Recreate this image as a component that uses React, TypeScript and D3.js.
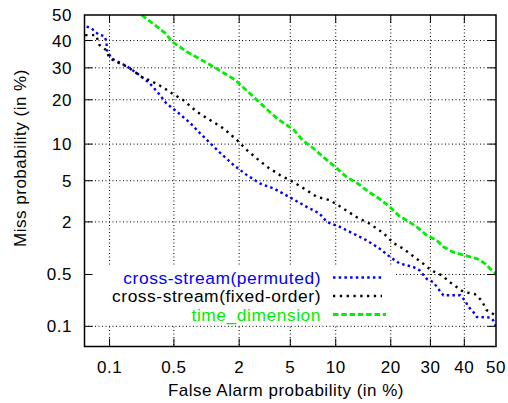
import React from "react";
import * as d3 from "d3";

const xTicks = [0.1, 0.5, 2, 5, 10, 20, 30, 40, 50];
const yTicks = [0.1, 0.5, 2, 5, 10, 20, 30, 40, 50];

const faPermuted = [0.053, 0.061, 0.074, 0.087, 0.092, 0.093, 0.105, 0.16, 0.21, 0.28, 0.35, 0.42, 0.54, 0.73, 0.9, 1.12, 1.38, 1.8, 2.32, 2.98, 3.78, 4.5, 5.2, 6.5, 7.9, 8.8, 10.6, 12.7, 15, 17.6, 19.8, 22.1, 25.4, 27.1, 29, 30.8, 32.2, 33.7, 38.7, 40.2, 41.2, 42.8, 43.9, 48.1, 49.1, 50];
const missPermuted = [45.4, 44.7, 42.3, 41.7, 39.6, 36.4, 33.4, 30.4, 27.9, 24.9, 21.8, 19, 16.8, 14.1, 12, 10.1, 8.5, 6.8, 5.6, 4.7, 4.25, 3.77, 3.4, 2.84, 2.44, 2, 1.77, 1.5, 1.27, 1.02, 0.82, 0.68, 0.62, 0.56, 0.44, 0.4, 0.33, 0.27, 0.27, 0.23, 0.19, 0.16, 0.136, 0.134, 0.122, 0.1];

const faFixed = [0.051, 0.069, 0.076, 0.091, 0.1, 0.12, 0.16, 0.23, 0.3, 0.38, 0.48, 0.62, 0.84, 1.12, 1.47, 1.92, 2.32, 2.8, 3.36, 4.2, 5.2, 6.5, 7.6, 9.2, 11.1, 13.2, 15.6, 18.4, 20.6, 22.9, 25, 28, 30.3, 33.2, 35.6, 39.7, 43.3, 45.4, 47, 49.1, 50];
const missFixed = [42.1, 42.1, 38.3, 36.4, 33.4, 32.1, 30.4, 27, 25.4, 23.8, 21.8, 19.9, 16.8, 14.8, 13, 10.7, 9, 7.7, 6.6, 5.6, 4.9, 4.1, 3.55, 3.3, 2.74, 2.25, 1.92, 1.52, 1.18, 1.02, 0.86, 0.68, 0.56, 0.49, 0.4, 0.3, 0.28, 0.23, 0.17, 0.15, 0.14];

const faTime = [0.23, 0.32, 0.41, 0.48, 0.67, 1.12, 1.86, 2.8, 4.0, 5.3, 6.1, 7.2, 8.6, 9.9, 11.6, 13.5, 15.3, 17.6, 19.8, 21.7, 23.7, 26.3, 29, 31.7, 33.7, 36.6, 39.7, 41.8, 43.9, 46.5, 48.1, 50];
const missTime = [50, 46, 42.8, 39.6, 35.8, 31, 25.9, 19.9, 15.2, 12.7, 10.7, 9.3, 7.7, 6.6, 5.4, 4.7, 4.0, 3.4, 2.84, 2.35, 2.08, 1.77, 1.44, 1.27, 1.07, 0.93, 0.86, 0.82, 0.78, 0.68, 0.59, 0.51];

const seriesNames = ["cross-stream(permuted)", "cross-stream(fixed-order)", "time_dimension"];
const seriesColors = ["#0000ff", "#000000", "#00ee00"];

function probit(p: number): number {
  const a = [-3.969683028665376e1, 2.209460984245205e2, -2.759285104469687e2, 1.38357751867269e2, -3.066479806614716e1, 2.506628277459239];
  const b = [-5.447609879822406e1, 1.615858368580409e2, -1.556989798598866e2, 6.680131188771972e1, -1.328068155288572e1];
  const c = [-7.784894002430293e-3, -3.223964580411365e-1, -2.400758277161838, -2.549732539343734, 4.374664141464968, 2.938163982698783];
  const d = [7.784695709041462e-3, 3.224671290700398e-1, 2.445134137142996, 3.754408661907416];
  const plow = 0.02425;
  if (p < plow) {
    const q = Math.sqrt(-2 * Math.log(p));
    return (((((c[0] * q + c[1]) * q + c[2]) * q + c[3]) * q + c[4]) * q + c[5]) / ((((d[0] * q + d[1]) * q + d[2]) * q + d[3]) * q + 1);
  }
  if (p <= 1 - plow) {
    const q = p - 0.5;
    const r = q * q;
    return ((((((a[0] * r + a[1]) * r + a[2]) * r + a[3]) * r + a[4]) * r + a[5]) * q) / (((((b[0] * r + b[1]) * r + b[2]) * r + b[3]) * r + b[4]) * r + 1);
  }
  const q = Math.sqrt(-2 * Math.log(1 - p));
  return -(((((c[0] * q + c[1]) * q + c[2]) * q + c[3]) * q + c[4]) * q + c[5]) / ((((d[0] * q + d[1]) * q + d[2]) * q + d[3]) * q + 1);
}

const W = 508, H = 403;
const L = 84.5, R = 496, T = 15, B = 346.5;

export default function App() {
  React.useEffect(() => {
    document.body.style.margin = "0";
  }, []);
  const xs = d3.scaleLinear().domain([probit(0.0005), probit(0.5)]).range([L, R]);
  const ys = d3.scaleLinear().domain([probit(0.0005), probit(0.5)]).range([B, T]);
  const X = (p: number) => xs(probit(p / 100));
  const Y = (p: number) => ys(probit(p / 100));

  const line = d3.line<[number, number]>().x((d) => X(d[0])).y((d) => Y(d[1]));
  const series = [
    { fa: faPermuted, miss: missPermuted, dash: "2.5,3.2", w: 2.4 },
    { fa: faFixed, miss: missFixed, dash: "2.3,4.5", w: 2.4 },
    { fa: faTime, miss: missTime, dash: "5.5,2.8", w: 2.8 },
  ];
  const font = "'Liberation Sans', Arial, Helvetica, sans-serif";
  const fs = 17;
  const ls = 0.5;

  return (
    <svg width={W} height={H} style={{ display: "block", position: "absolute", left: 0, top: 0, background: "#fff" }} fontFamily={font}>
      <defs>
        <clipPath id="plot">
          <rect x={L} y={T} width={R - L} height={B - T} />
        </clipPath>
      </defs>
      <rect x={0} y={0} width={W} height={H} fill="#fff" />
      {/* grid */}
      {xTicks.filter((t) => t < 50).map((t) => (
        <line key={"gx" + t} x1={X(t)} x2={X(t)} y1={T} y2={B} stroke="#000" strokeWidth={1} strokeDasharray="1,2.5" />
      ))}
      {yTicks.filter((t) => t < 50).map((t) => (
        <line key={"gy" + t} x1={L} x2={R} y1={Y(t)} y2={Y(t)} stroke="#000" strokeWidth={1} strokeDasharray="1,2.5" />
      ))}
      {/* legend background */}
      <rect x={87} y={267} width={309} height={57} fill="#fff" />
      {/* curves */}
      <g clipPath="url(#plot)">
        {series.map((s, i) => (
          <path key={i} d={line(s.fa.map((f, j) => [f, s.miss[j]] as [number, number])) || ""} fill="none" stroke={seriesColors[i]} strokeWidth={s.w} strokeDasharray={s.dash} />
        ))}
      </g>
      {/* ticks */}
      {xTicks.filter((t) => t < 50).map((t) => (
        <g key={"tx" + t}>
          <line x1={X(t)} x2={X(t)} y1={B} y2={B - 8} stroke="#000" strokeWidth={1} />
          <line x1={X(t)} x2={X(t)} y1={T} y2={T + 8} stroke="#000" strokeWidth={1} />
        </g>
      ))}
      {yTicks.filter((t) => t < 50).map((t) => (
        <g key={"ty" + t}>
          <line x1={L} x2={L + 8} y1={Y(t)} y2={Y(t)} stroke="#000" strokeWidth={1} />
          <line x1={R} x2={R - 8} y1={Y(t)} y2={Y(t)} stroke="#000" strokeWidth={1} />
        </g>
      ))}
      {/* frame */}
      <rect x={L} y={T} width={R - L} height={B - T} fill="none" stroke="#000" strokeWidth={1.5} />
      {/* tick labels */}
      {xTicks.map((t) => (
        <text key={"lx" + t} x={X(t)} y={373} textAnchor="middle" fontSize={fs} letterSpacing={ls}>{t}</text>
      ))}
      {yTicks.map((t) => (
        <text key={"ly" + t} x={72} y={Y(t) + 6} textAnchor="end" fontSize={fs} letterSpacing={ls}>{t}</text>
      ))}
      {/* axis labels */}
      <text x={286} y={396} textAnchor="middle" fontSize={fs} letterSpacing={ls}>False Alarm probability (in %)</text>
      <text transform="translate(26,158) rotate(-90)" textAnchor="middle" fontSize={fs} letterSpacing={ls}>Miss probability (in %)</text>
      {/* legend */}
      {seriesNames.map((n, i) => {
        const yy = 277.5 + i * 18.5;
        return (
          <g key={"lg" + i}>
            <text x={321} y={yy + 6} textAnchor="end" fontSize={17.4} letterSpacing={0.55} fill={seriesColors[i]}>{n}</text>
            <line x1={333} x2={i === 2 ? 386 : 382} y1={yy} y2={yy} stroke={seriesColors[i]} strokeWidth={series[i].w} strokeDasharray={series[i].dash} />
          </g>
        );
      })}
    </svg>
  );
}
